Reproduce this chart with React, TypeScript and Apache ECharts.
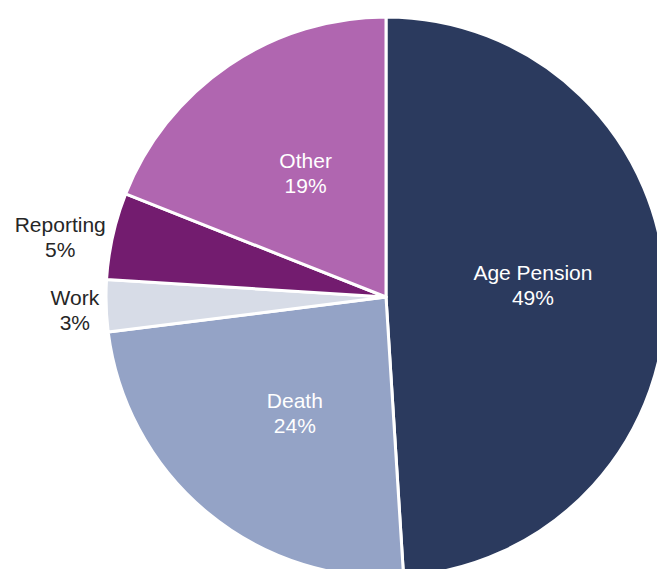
import React, { useEffect, useRef } from "react";
import * as echarts from "echarts";

const categories = ["Age Pension", "Death", "Work", "Reporting", "Other"];
const values = [49, 24, 3, 5, 19];
const colors = ["#2B3A5E", "#94A3C6", "#D7DCE7", "#731C6F", "#B066B0"];
const outsideLabels = ["Work", "Reporting"];
// label nudges (layout styling only)
const labelOffsets: Record<string, number[]> = {
  "Age Pension": [4, -8],
  Death: [0, 6],
  Work: [0, 4],
  Reporting: [0, 1],
  Other: [0, -6],
};

export default function App() {
  const ref = useRef<HTMLDivElement>(null);
  useEffect(() => {
    if (!ref.current) return;
    const chart = echarts.init(ref.current, undefined, { renderer: "svg" });
    const data = categories.map((name, i) => {
      const outside = outsideLabels.includes(name);
      return {
        name,
        value: values[i],
        itemStyle: { color: colors[i] },
        label: outside
          ? { position: "outside", color: "#262626", offset: labelOffsets[name] }
          : { position: "inside", color: "#FFFFFF", offset: labelOffsets[name] },
        labelLine: { show: false, length: 0, length2: 2 },
      };
    });
    chart.setOption({
      animation: false,
      backgroundColor: "#FFFFFF",
      series: [
        {
          type: "pie",
          center: [386, 297],
          radius: 280,
          startAngle: 90,
          clockwise: true,
          avoidLabelOverlap: false,
          itemStyle: { borderColor: "#FFFFFF", borderWidth: 3 },
          label: {
            show: true,
            formatter: "{t|{b}}\n{t|{c}%}",
            distanceToLabelLine: 5,
            rich: {
              t: {
                align: "center",
                fontFamily: "Liberation Sans, Arial, sans-serif",
                fontSize: 21,
                lineHeight: 25,
              },
            },
          },
          labelLine: { show: false, length: 0, length2: 2 },
          data,
        },
      ],
    });
    return () => chart.dispose();
  }, []);
  return (
    <div
      ref={ref}
      style={{ position: "fixed", left: 0, top: 0, width: 657, height: 569 }}
    />
  );
}
